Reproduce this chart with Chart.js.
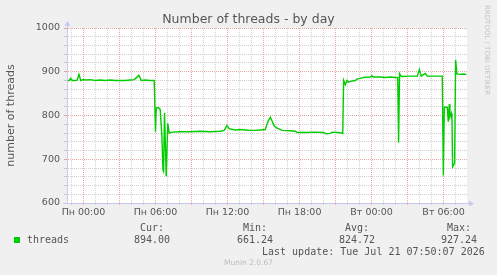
<!DOCTYPE html>
<html>
<head>
<meta charset="utf-8">
<script src="https://cdn.jsdelivr.net/npm/chart.js@4.4.1/dist/chart.umd.min.js"></script>
<style>
  html, body { margin: 0; padding: 0; background: #f0f0f0; }
  #wrap { position: relative; width: 497px; height: 275px; overflow: hidden; }
  #wrap canvas { position: absolute; left: 0; top: 0; }
  .t { position: absolute; white-space: nowrap; color: #555; }
  .mono { font: 10px/12px "DejaVu Sans Mono", monospace; }
</style>
</head>
<body>
<div id="wrap">
  <canvas id="threadsChart" width="497" height="275"></canvas>
  <div class="t" id="title" style="left:0;width:497px;top:11px;text-align:center;font:12.5px/15px 'DejaVu Sans',sans-serif;"></div>
  <div class="t" id="rrd" style="left:483px;top:5px;writing-mode:vertical-rl;font:7px/8px 'DejaVu Sans',sans-serif;color:#c4c4c4;">RRDTOOL / TOBI OETIKER</div>
  <div id="legend"></div>
  <div class="t" id="footer" style="left:0;width:497px;top:258px;text-align:center;font:7.5px/10px 'DejaVu Sans',sans-serif;color:#bcbcbc;"></div>
</div>
<script>
// подписи и данные
const chartTitle = 'Number of threads - by day';
const yTitle = 'number of threads';
const seriesName = 'threads';
const statNames = ['Cur:', 'Min:', 'Avg:', 'Max:'];
const statValues = ['894.00', '661.24', '824.72', '927.24'];
const lastUpdate = 'Last update: Tue Jul 21 07:50:07 2026';
const footerText = 'Munin 2.0.67';

// ось X: часы от понедельника 00:00
const xTickLabels = ['Пн 00:00', 'Пн 06:00', 'Пн 12:00', 'Пн 18:00', 'Вт 00:00', 'Вт 06:00'];
const xMin = -1.375, xMax = 31.95;
const yMin = 600, yMax = 1000;

const hours = [
  -1.36, -1.19, -1.08, -0.94, -0.69, -0.53, -0.38, -0.23, -0.03, 0.23,
  0.56, 0.98, 1.39, 1.81, 2.23, 2.64, 3.06, 3.48, 3.89, 4.23,
  4.39, 4.62, 4.81, 5.14, 5.48, 5.89, 6.0, 6.06, 6.23, 6.39,
  6.53, 6.62, 6.67, 6.75, 6.89, 7.02, 7.14, 7.39, 8.06, 8.89,
  9.72, 10.56, 11.39, 11.72, 11.95, 12.14, 12.64, 13.06, 13.47, 13.89,
  14.31, 14.72, 15.14, 15.35, 15.56, 15.72, 15.89, 16.14, 16.56, 17.23,
  17.64, 17.81, 18.48, 19.31, 19.98, 20.23, 20.56, 20.73, 21.23, 21.48,
  21.6, 21.67, 21.81, 21.95, 22.06, 22.23, 22.64, 22.78, 23.06, 23.33,
  23.89, 24.03, 24.14, 24.73, 25.14, 25.56, 25.98, 26.18, 26.25, 26.33,
  26.48, 27.23, 27.81, 27.98, 28.14, 28.48, 28.64, 29.31, 29.89, 29.98,
  30.06, 30.31, 30.39, 30.48, 30.53, 30.64, 30.7, 30.75, 30.92, 31.0,
  31.11, 31.39, 31.64, 31.89
];
const threads = [
  880, 880, 885, 880, 880, 881, 894, 880, 882, 881,
  882, 880, 881, 880, 881, 880, 880, 880, 881, 882,
  886, 892, 880, 881, 880, 880, 763, 817, 818, 814,
  752, 675, 672, 806, 661, 782, 760, 762, 763, 763,
  764, 763, 764, 766, 777, 770, 767, 768, 767, 766,
  766, 767, 768, 785, 796, 787, 776, 771, 766, 765,
  764, 761, 761, 762, 761, 758, 759, 762, 761, 760,
  759, 880, 870, 880, 876, 878, 880, 883, 885, 887,
  888, 891, 888, 888, 887, 888, 887, 887, 738, 896,
  889, 890, 890, 905, 890, 896, 890, 890, 890, 663,
  819, 819, 786, 826, 797, 805, 790, 683, 691, 927,
  895, 894, 895, 894
];

const green = '#00cc00';
const textColor = '#555555';
const majorGrid = 'rgba(225,110,110,0.6)';
const minorGrid = 'rgba(170,170,170,0.55)';
const axisColor = '#c8c8f0';

document.getElementById('title').textContent = chartTitle;
document.getElementById('footer').textContent = footerText;

// легенда (моноширинный текст как у rrdtool)
const legend = document.getElementById('legend');
function addText(txt, left, top, cls) {
  const d = document.createElement('div');
  d.className = 't ' + (cls || 'mono');
  d.style.left = left + 'px';
  d.style.top = top + 'px';
  d.textContent = txt;
  legend.appendChild(d);
  return d;
}
const sq = document.createElement('div');
sq.style.cssText = 'position:absolute;left:14px;top:237px;width:6px;height:6px;background:' + green;
legend.appendChild(sq);
addText(seriesName, 27, 234);
const statLeft = [134, 237, 339, 441];
statNames.forEach((n, i) => {
  addText(n, statLeft[i] + 6, 222);
  addText(statValues[i], statLeft[i], 234);
});
addText(lastUpdate, 262, 246);

const bgPlugin = {
  id: 'bg',
  beforeDraw(chart) {
    const { ctx, chartArea: a } = chart;
    ctx.save();
    ctx.fillStyle = '#f0f0f0';
    ctx.fillRect(0, 0, chart.width, chart.height);
    ctx.fillStyle = '#ffffff';
    ctx.fillRect(a.left, a.top, a.right - a.left, a.bottom - a.top);
    ctx.restore();
  },
  afterDraw(chart) {
    // стрелки осей
    const { ctx, chartArea: a } = chart;
    const x0 = Math.round(a.left) + 0.5, y0 = Math.round(a.bottom) + 0.5;
    ctx.save();
    ctx.strokeStyle = axisColor;
    ctx.fillStyle = axisColor;
    ctx.lineWidth = 1;
    ctx.beginPath();
    ctx.moveTo(x0, y0); ctx.lineTo(x0, a.top - 4);
    ctx.moveTo(x0 - 4, y0); ctx.lineTo(a.right + 3, y0);
    ctx.stroke();
    ctx.beginPath();
    ctx.moveTo(x0 - 3, a.top - 2); ctx.lineTo(x0 + 3, a.top - 2); ctx.lineTo(x0, a.top - 7); ctx.closePath();
    ctx.fill();
    ctx.beginPath();
    ctx.moveTo(a.right + 2, y0 - 3); ctx.lineTo(a.right + 2, y0 + 3); ctx.lineTo(a.right + 7, y0); ctx.closePath();
    ctx.fill();
    ctx.restore();
  }
};

const ctx = document.getElementById('threadsChart');
new Chart(ctx, {
  type: 'line',
  data: {
    datasets: [{
      label: seriesName,
      data: hours.map((h, i) => ({ x: h, y: threads[i] })),
      borderColor: green,
      borderWidth: 1.4,
      pointRadius: 0,
      tension: 0,
      fill: false
    }]
  },
  options: {
    responsive: false,
    animation: false,
    devicePixelRatio: 1,
    layout: { padding: { top: 28, right: 30, bottom: 0, left: 0 } },
    plugins: { legend: { display: false }, title: { display: false }, tooltip: { enabled: false } },
    scales: {
      x: {
        type: 'linear',
        min: xMin,
        max: xMax,
        afterFit(s) { s.height = 72; },
        afterBuildTicks(s) {
          const t = [];
          for (let h = Math.ceil(xMin); h <= Math.floor(xMax); h++) t.push({ value: h });
          s.ticks = t;
        },
        ticks: {
          autoSkip: false,
          maxRotation: 0,
          padding: 2,
          color: textColor,
          font: { family: 'DejaVu Sans', size: 9.5 },
          callback: v => (v % 6 === 0 && v >= 0) ? xTickLabels[v / 6] : ''
        },
        grid: {
          color: c => (c.tick && c.tick.value % 3 === 0) ? majorGrid : minorGrid,
          tickLength: 2,
          lineWidth: 1
        },
        border: { display: true, color: axisColor, dash: [1, 1] }
      },
      y: {
        min: yMin,
        max: yMax,
        afterFit(s) { s.width = 67; },
        ticks: {
          stepSize: 20,
          autoSkip: false,
          padding: 4,
          color: textColor,
          font: { family: 'DejaVu Sans', size: 9.5 },
          callback: v => v % 100 === 0 ? v : ''
        },
        grid: {
          color: c => (c.tick && c.tick.value % 100 === 0) ? majorGrid : minorGrid,
          tickLength: 3,
          lineWidth: 1
        },
        border: { display: true, color: axisColor, dash: [1, 1] },
        title: {
          display: true,
          text: yTitle,
          color: textColor,
          font: { family: 'DejaVu Sans', size: 11 },
          padding: { top: 4.5, bottom: 0 }
        }
      }
    }
  },
  plugins: [bgPlugin]
});
</script>
</body>
</html>
